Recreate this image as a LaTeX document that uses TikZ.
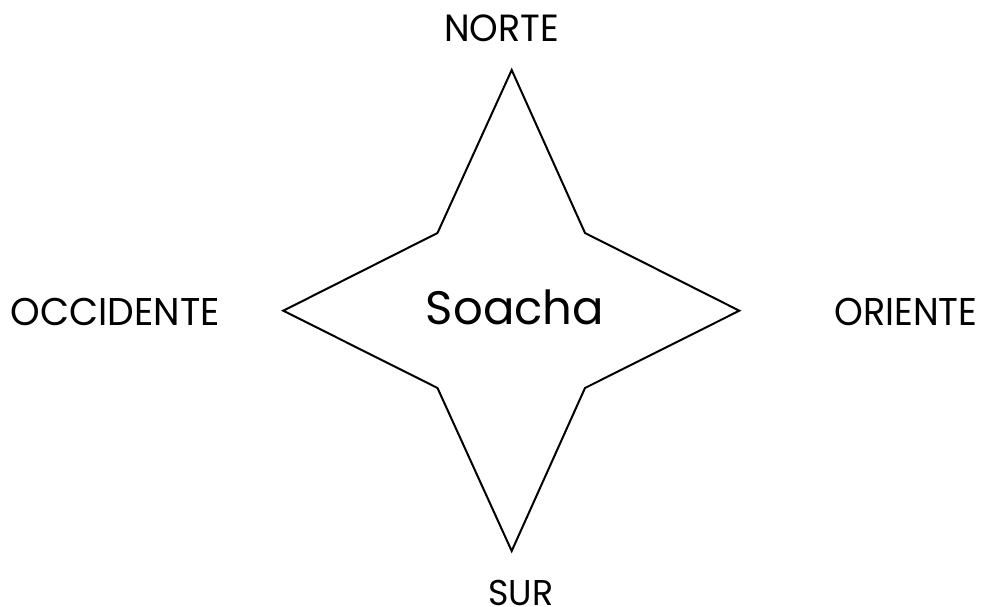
\documentclass[tikz,border=0pt]{standalone}
\usepackage{fontspec}
\setmainfont{Poppins}
\usepackage{graphicx}
\begin{document}
\begin{tikzpicture}[x=1pt,y=-1pt,
  lbl/.style={inner sep=0pt,outer sep=0pt,anchor=base,text=black},
  starline/.style={draw=black,line width=2pt,line join=miter}]
\useasboundingbox (0,0) rectangle (982,607);
% star vertices
\coordinate (tN) at (511.7,70);
\coordinate (iNE) at (585,233);
\coordinate (tE) at (739.3,310.7);
\coordinate (iSE) at (585,388);
\coordinate (tS) at (511.7,551);
\coordinate (iSW) at (437.5,388);
\coordinate (tW) at (283.3,310.7);
\coordinate (iNW) at (437.5,233);
\draw[starline] (tN) -- (iNE) -- (tE) -- (iSE) -- (tS) -- (iSW) -- (tW) -- (iNW) -- cycle;
% labels
\node[lbl] (norte) at (501.7,41.7) {\resizebox{114.7pt}{26.7pt}{NORTE}};
\node[lbl] (soacha) at (515,324) {\resizebox{178pt}{34.7pt}{Soacha}};
\node[lbl] (occ) at (115.5,325) {\resizebox{209pt}{27.3pt}{OCCIDENTE}};
\node[lbl] (ori) at (905.8,325) {\resizebox{143pt}{27.3pt}{ORIENTE}};
\node[lbl] (sur) at (520.8,605.3) {\resizebox{65pt}{25.3pt}{SUR}};
\end{tikzpicture}
\end{document}
